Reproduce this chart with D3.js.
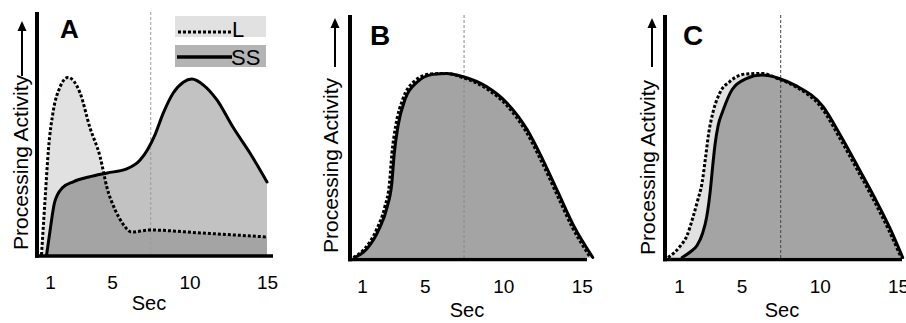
<!DOCTYPE html>
<html><head><meta charset="utf-8">
<script src="https://cdn.jsdelivr.net/npm/d3@7"></script>
<style>
body{margin:0;background:#fff}
svg{display:block}
text{font-family:"Liberation Sans",Arial,Helvetica,sans-serif;fill:#000}
</style>
</head><body>
<svg id="chart" width="906" height="323"></svg>
<script>
// ---------- data ----------
const tickSeconds = [1, 5, 10, 15];
const markerSecond = 7.5;
const panelNames = ["A", "B", "C"];
const legendLabels = ["L", "SS"];
const xTitle = "Sec";
const yTitle = "Processing Activity";

// [second, activity] pairs
const panelA_L  = [[0.45,0],[0.68,23],[0.9,44],[1.21,60],[1.65,70],[2.15,74],[2.94,67.5],[3.58,53],[4.23,41],[4.68,28],[5.19,19],[5.7,13],[6.27,9.6],[7.45,10.4],[10.7,9.2],[15,7.5]];
const panelA_SS = [[0.78,0],[1.0,10],[1.3,22],[1.8,28],[2.5,30.5],[3.5,32.5],[4.7,34.2],[5.9,35.8],[6.8,39.5],[7.3,44],[7.8,50.5],[8.3,59],[8.95,67.5],[9.6,72],[10.15,73.3],[10.9,70.8],[11.77,64.6],[12.8,53.3],[13.9,42.5],[15,30.4]];
const panelB_L  = [[0.45,0],[1.15,3.5],[1.95,12],[2.45,21],[2.75,31],[2.9,43],[3.15,55],[3.6,66],[4.35,73.5],[5.4,76.5],[6.4,76.7],[7.4,75],[8.9,70.5],[10.2,63.5],[11.4,53],[12.4,40.5],[13.4,26.5],[14.4,12.5],[15.55,0]];
const panelB_SS = [[0.55,0],[1.3,3.5],[2.1,12],[2.6,21],[2.9,31],[3.05,43],[3.3,55],[3.75,66],[4.5,73],[5.5,76.3],[6.4,76.7],[7.4,75.4],[8.9,71.3],[10.2,64.6],[11.5,53.5],[12.5,41],[13.5,27],[14.5,13],[15.7,0]];
const panelC_L  = [[0.3,0],[1.06,4.6],[1.5,9],[1.9,17],[2.2,24],[2.47,31],[2.7,42],[2.9,52],[3.15,60],[3.6,68.5],[4.24,73.3],[5.3,76.5],[6.3,76.7],[7.4,74.3],[8.5,71],[10.1,62.5],[11.3,49.5],[12.4,36.5],[13.4,24.5],[14.4,11.5],[15.2,0]];
const panelC_SS = [[1.2,0],[1.75,2.5],[2.15,5],[2.5,10],[2.77,17],[3.0,28],[3.15,38],[3.3,47],[3.5,55],[3.8,61],[4.4,70],[5.3,74.5],[6.3,76],[7.4,74.6],[8.5,71.5],[10.2,63],[11.4,50],[12.5,37],[13.5,25],[14.5,12],[15.3,0]];
const panelSeries = [[panelA_L, panelA_SS], [panelB_L, panelB_SS], [panelC_L, panelC_SS]];

// ---------- layout (pixels) ----------
const layouts = [
  {x0:34.5, xEnd:267,  yBottom:255,   yAxisX:37,  yTop:12, xAxisY:256,   xAxisStart:35,  xAxisEnd:273, tickY:289, secX:149, secY:310,
   lab:[60,38,26], title:[27.5,250], arrow:[22,76,21], markColor:"#9a9a9a", legend:true},
  {x0:346.3, xEnd:581.8, yBottom:257.5, yAxisX:350, yTop:15, xAxisY:259.5, xAxisStart:348, xAxisEnd:587, tickY:293, secX:467, secY:317,
   lab:[370,45,28], title:[338,253], arrow:[335,67,18], markColor:"#8a8a8a", legend:false},
  {x0:663.4, xEnd:898, yBottom:257.5, yAxisX:665, yTop:15, xAxisY:259.5, xAxisStart:663, xAxisEnd:902, tickY:293, secX:782, secY:317,
   lab:[683,45,28], title:[655,255], arrow:[652,67,18], markColor:"#444", legend:false}
];

const COL_L = "#e1e1e1", COL_SS = "#c2c2c2", COL_BOTH = "#a4a4a4", COL_SS_KEY = "#b4b4b4";

const svg = d3.select("#chart");

layouts.forEach((L, i) => {
  const [dL, dSS] = panelSeries[i];
  const x = d3.scaleLinear().domain([0, 15]).range([L.x0, L.xEnd]);
  const y = d3.scaleLinear().domain([0, 100]).range([L.yBottom, L.yBottom - 240]);
  const g = svg.append("g");

  const area = d3.area().x(d => x(d[0])).y0(y(0)).y1(d => y(d[1])).curve(d3.curveMonotoneX);
  const line = d3.line().x(d => x(d[0])).y(d => y(d[1])).curve(d3.curveMonotoneX);

  const clipId = "clipSS" + i;
  g.append("clipPath").attr("id", clipId).append("path").attr("d", area(dSS));

  g.append("path").attr("d", area(dSS)).attr("fill", COL_SS);
  g.append("path").attr("d", area(dL)).attr("fill", COL_L);
  g.append("path").attr("d", area(dL)).attr("fill", COL_BOTH).attr("clip-path", `url(#${clipId})`);

  // marker line
  g.append("line").attr("x1", x(markerSecond)).attr("x2", x(markerSecond))
    .attr("y1", L.yTop).attr("y2", L.xAxisY)
    .attr("stroke", L.markColor).attr("stroke-width", 1).attr("stroke-dasharray", "3,2");

  // curves
  g.append("path").attr("d", line(dL)).attr("fill", "none").attr("stroke", "#000")
    .attr("stroke-width", 3).attr("stroke-dasharray", "3,2");
  g.append("path").attr("d", line(dSS)).attr("fill", "none").attr("stroke", "#000")
    .attr("stroke-width", 3).attr("stroke-linecap", "round");

  // axes
  g.append("line").attr("x1", L.yAxisX).attr("x2", L.yAxisX).attr("y1", L.yTop).attr("y2", L.xAxisY + 1.8)
    .attr("stroke", "#000").attr("stroke-width", 4);
  g.append("line").attr("x1", L.xAxisStart).attr("x2", L.xAxisEnd).attr("y1", L.xAxisY).attr("y2", L.xAxisY)
    .attr("stroke", "#000").attr("stroke-width", 3.6);

  const ax = g.append("g").attr("transform", `translate(0,${L.tickY})`)
    .call(d3.axisBottom(x).tickValues(tickSeconds).tickSize(0).tickFormat(d3.format("d")));
  ax.select(".domain").remove();
  ax.selectAll("text").attr("y", 0).attr("dy", 0).attr("font-size", 19)
    .attr("font-family", '"Liberation Sans",Arial,sans-serif').attr("fill", "#000");

  g.append("text").attr("x", L.secX).attr("y", L.secY).attr("text-anchor", "middle")
    .attr("font-size", 20).text(xTitle);

  // y title
  g.append("text").attr("transform", `translate(${L.title[0]},${L.title[1]}) rotate(-90)`)
    .attr("font-size", 21).text(yTitle);
  const [axX, axB, axT] = L.arrow;
  g.append("line").attr("x1", axX).attr("x2", axX).attr("y1", axB).attr("y2", axT + 8)
    .attr("stroke", "#000").attr("stroke-width", 2);
  g.append("path").attr("d", `M${axX - 4.5},${axT + 10}L${axX + 4.5},${axT + 10}L${axX},${axT}Z`).attr("fill", "#000");

  // panel letter
  g.append("text").attr("x", L.lab[0]).attr("y", L.lab[1]).attr("font-size", L.lab[2])
    .attr("font-weight", "bold").text(panelNames[i]);

  if (L.legend) {
    const lg = g.append("g");
    lg.append("rect").attr("x", 175).attr("y", 16).attr("width", 91).attr("height", 21).attr("fill", COL_L);
    lg.append("rect").attr("x", 175).attr("y", 45).attr("width", 91).attr("height", 22).attr("fill", COL_SS_KEY);
    lg.append("line").attr("x1", 178).attr("x2", 231).attr("y1", 32).attr("y2", 32)
      .attr("stroke", "#000").attr("stroke-width", 3).attr("stroke-dasharray", "3,2");
    lg.append("line").attr("x1", 177).attr("x2", 232).attr("y1", 57).attr("y2", 57)
      .attr("stroke", "#000").attr("stroke-width", 3.4);
    lg.append("text").attr("x", 232).attr("y", 37).attr("font-size", 22).text(legendLabels[0]);
    lg.append("text").attr("x", 231).attr("y", 65).attr("font-size", 22).text(legendLabels[1]);
  }
});
</script>
</body></html>
